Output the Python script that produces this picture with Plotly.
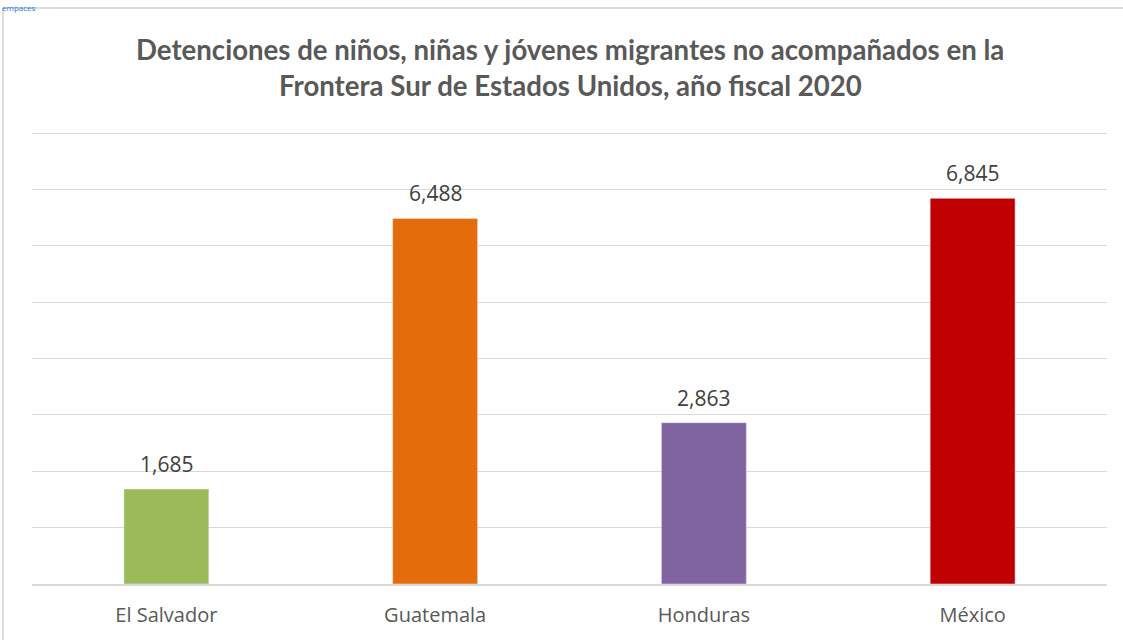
import plotly.graph_objects as go

categories = ["El Salvador", "Guatemala", "Honduras", "México"]
values = [1685, 6488, 2863, 6845]
colors = ["#9BBB59", "#E46C0A", "#8064A2", "#C00000"]
title_lines = ["Detenciones de niños, niñas y jóvenes migrantes no acompañados en la",
               "Frontera Sur de Estados Unidos, año fiscal 2020"]

W, H = 1123, 640
L, R, T, B = 32, 16, 122, 56
pw, ph = W - L - R, H - T - B
YMAX = 8200

def px(x):
    return (x - L) / pw

def py(y):
    return (H - B - y) / ph

fig = go.Figure(go.Bar(
    x=categories, y=values, marker_color=colors, width=0.316,
))

for c, v in zip(categories, values):
    fig.add_annotation(x=c, y=v, text=f"{v:,}", showarrow=False, yanchor="bottom",
                       yshift=9, font=dict(size=21, color="#404040", family="Open Sans"))

for line, ypix in zip(title_lines, [49, 85]):
    fig.add_annotation(text=line, xref="paper", yref="paper", x=px(570), y=py(ypix),
                       xanchor="center", yanchor="middle", showarrow=False,
                       font=dict(family="Lato", size=27.6, color="#595959", weight="bold"))

fig.add_annotation(text="empaces", xref="paper", yref="paper", x=px(0), y=py(0),
                   xanchor="left", yanchor="top", showarrow=False,
                   font=dict(size=8, color="#2E75D6"))

fig.update_layout(
    width=W, height=H,
    margin=dict(l=L, r=R, t=T, b=B),
    paper_bgcolor="white", plot_bgcolor="white",
    showlegend=False,
    xaxis=dict(showline=True, linecolor="#D9D9D9", linewidth=1.5, ticks="",
               ticklabelstandoff=12,
               tickfont=dict(size=20, color="#595959", family="Open Sans")),
    yaxis=dict(range=[0, YMAX], dtick=1000, showticklabels=False,
               gridcolor="#D9D9D9", gridwidth=1, zeroline=False),
    shapes=[
        dict(type="line", xref="paper", yref="paper", x0=px(3), x1=px(1123), y0=py(8), y1=py(8),
             line=dict(color="#D0D0D0", width=1.5)),
        dict(type="line", xref="paper", yref="paper", x0=px(3), x1=px(3), y0=py(8), y1=py(640),
             line=dict(color="#D0D0D0", width=1.5)),
    ],
)

fig.write_html("out.html", config={"displayModeBar": False},
               post_script="document.body.style.margin='0';document.body.style.padding='0';")
